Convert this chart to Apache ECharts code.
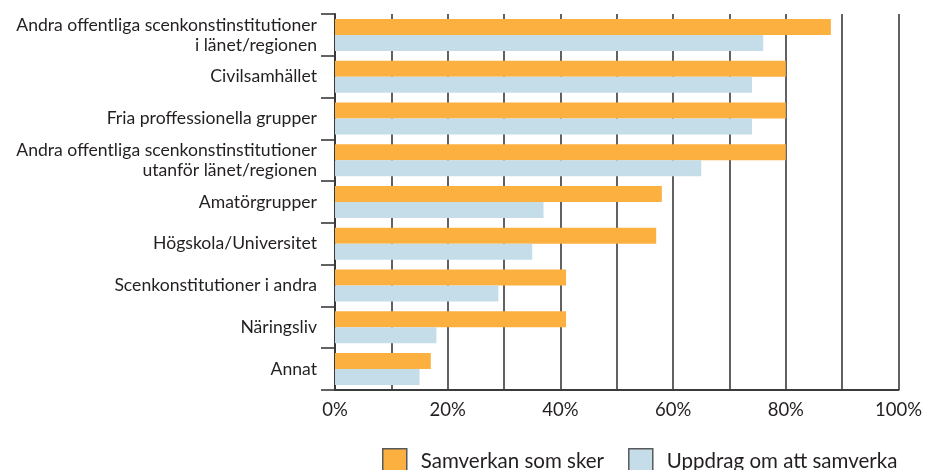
<!DOCTYPE html>
<html><head><meta charset="utf-8">
<script src="https://cdn.jsdelivr.net/npm/echarts@6/dist/echarts.min.js"></script>
<style>html,body{margin:0;padding:0;background:#fff}#c{width:925px;height:470px}</style>
</head><body><div id="c"></div>
<script>
var categories = [
  "Andra offentliga scenkonstinstitutioner\ni länet/regionen",
  "Civilsamhället",
  "Fria proffessionella grupper",
  "Andra offentliga scenkonstinstitutioner\nutanför länet/regionen",
  "Amatörgrupper",
  "Högskola/Universitet",
  "Scenkonstitutioner i andra",
  "Näringsliv",
  "Annat"
];
var seriesNames = ["Samverkan som sker", "Uppdrag om att samverka"];
var samverkan = [88, 80, 80, 80, 58, 57, 41, 41, 17];
var uppdrag = [76, 74, 74, 65, 37, 35, 29, 18, 15];
var tickValues = [0, 20, 40, 60, 80, 100];

var FONT = "Lato";
var chart = echarts.init(document.getElementById('c'), null, {renderer: 'canvas'});
chart.setOption({
  animation: false,
  textStyle: {fontFamily: FONT, color: '#231f20'},
  grid: {left: 335, right: 26, top: 14, bottom: 80, containLabel: false},
  legend: {
    data: seriesNames,
    left: 382, top: 448, padding: 0,
    itemWidth: 24, itemHeight: 26, itemGap: 24,
    icon: 'rect',
    itemStyle: {borderColor: '#58595b', borderWidth: 1.5},
    textStyle: {fontFamily: FONT, fontSize: 20.5, color: '#231f20', padding: [0, 0, 8, 9]}
  },
  xAxis: {
    type: 'value', min: 0, max: 100, interval: 10,
    axisLine: {show: true, lineStyle: {color: '#3a3a3a', width: 2}},
    axisTick: {show: false},
    splitLine: {show: true, lineStyle: {color: '#3a3a3a', width: 1.6}},
    axisLabel: {
      fontFamily: FONT, fontSize: 18.5, color: '#231f20', margin: 11,
      formatter: function (v) { return tickValues.indexOf(v) >= 0 ? v + '%' : ''; }
    }
  },
  yAxis: {
    type: 'category', inverse: true, data: categories,
    axisLine: {show: true, lineStyle: {color: '#3a3a3a', width: 2}},
    axisTick: {show: true, length: 14, lineStyle: {color: '#3a3a3a', width: 1.6}},
    axisLabel: {fontFamily: FONT, fontSize: 17.6, color: '#231f20', margin: 18, lineHeight: 20, align: 'right'},
    splitLine: {show: false}
  },
  series: [
    {name: seriesNames[0], type: 'bar', data: samverkan, barWidth: 16, barGap: '0%',
     itemStyle: {color: '#fbb040'}},
    {name: seriesNames[1], type: 'bar', data: uppdrag, barWidth: 16, barGap: '0%',
     itemStyle: {color: '#c5dde8'}}
  ]
});
</script></body></html>
